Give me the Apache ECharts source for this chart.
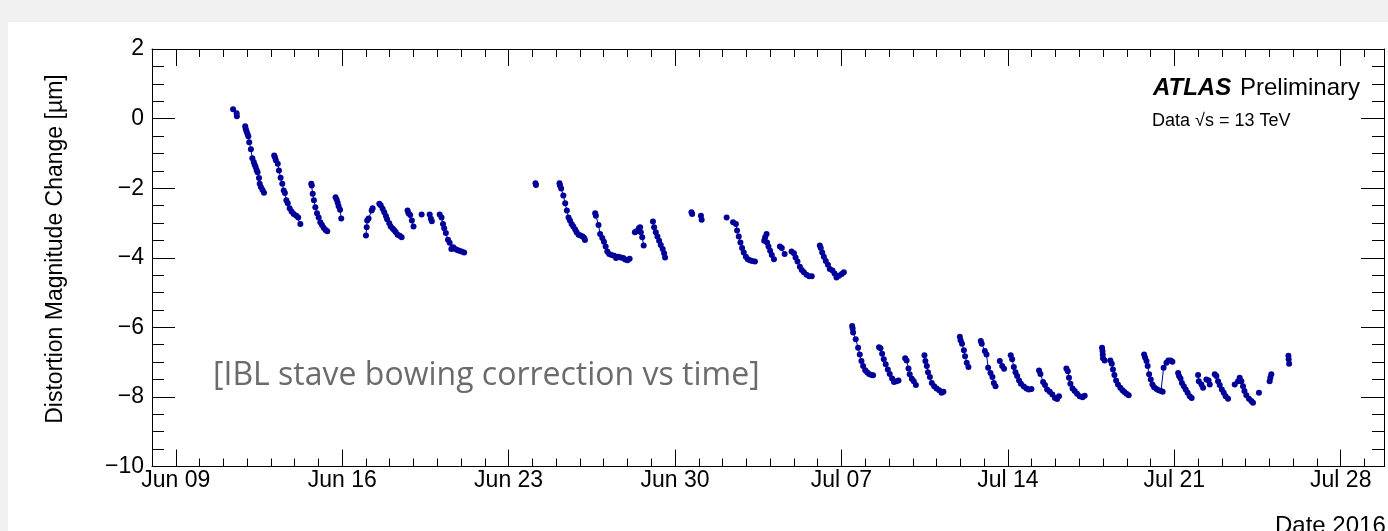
<!DOCTYPE html>
<html>
<head>
<meta charset="utf-8">
<script src="https://cdn.jsdelivr.net/npm/echarts@6.0.0/dist/echarts.min.js"></script>
<style>
  html, body { margin: 0; padding: 0; background: #f1f1f1; }
  #sheet { position: absolute; left: 8px; top: 22px; width: 1380px; height: 509px; background: #fff; }
  #chart { position: absolute; left: 0; top: 0; width: 1388px; height: 531px; }
</style>
</head>
<body>
<div id="sheet"></div>
<div id="chart"></div>
<script>
// time is in days counted from 2016-06-00, so Jun 11 12:00 = 11.5 and Jul 07 00:00 = 37
// each inner array is one run of measurements (points of a run are joined by a line)
const runDays = [
  [11.41, 11.56, 11.57],
  [11.92, 11.94, 11.97, 12.01, 12.05, 12.09, 12.16, 12.22, 12.28, 12.32, 12.36, 12.40, 12.44, 12.50, 12.53, 12.58, 12.65, 12.71],
  [13.14, 13.17, 13.21, 13.29, 13.34, 13.41, 13.48, 13.54, 13.59, 13.65, 13.71, 13.79, 13.87, 13.96, 14.07, 14.15, 14.24],
  [14.70, 14.72, 14.76, 14.81, 14.87, 14.94, 15.01, 15.08, 15.15, 15.22, 15.30, 15.37],
  [15.72, 15.77, 15.81, 15.85, 15.91, 15.96],
  [17.00, 17.03, 17.05, 17.11, 17.24, 17.28],
  [17.56, 17.62, 17.70, 17.77, 17.84, 17.89, 17.98, 18.04, 18.12, 18.18, 18.25, 18.33, 18.42, 18.50],
  [18.75, 18.79, 18.86, 18.93, 19.00],
  [19.34],
  [19.68, 19.73, 19.77],
  [20.10, 20.18, 20.24, 20.29, 20.36, 20.45, 20.52, 20.59, 20.67, 20.75, 20.84, 20.92, 21.02, 21.13],
  [24.13, 24.15],
  [25.14, 25.16, 25.21, 25.30, 25.38, 25.45, 25.52, 25.58, 25.65, 25.72, 25.80, 25.86, 25.94, 26.03, 26.11, 26.18, 26.21],
  [26.64, 26.67, 26.78, 26.85, 26.94, 27.01, 27.08, 27.15, 27.23, 27.33, 27.44, 27.52, 27.62, 27.72, 27.82, 27.90, 28.00, 28.09],
  [28.31, 28.38, 28.48, 28.53, 28.56, 28.62, 28.68],
  [29.07, 29.12, 29.19, 29.26, 29.33, 29.40, 29.48, 29.54, 29.58],
  [30.69, 30.72],
  [31.09, 31.12],
  [32.17],
  [32.44, 32.56, 32.61, 32.68, 32.75, 32.82, 32.89, 32.98, 33.06, 33.15, 33.24, 33.36],
  [33.75, 33.79, 33.85, 33.87, 33.93, 34.00, 34.07, 34.16],
  [34.41, 34.49, 34.61],
  [34.90, 35.00, 35.07, 35.15, 35.25, 35.33, 35.42, 35.53, 35.64, 35.75],
  [36.09, 36.13, 36.19, 36.26, 36.34, 36.43, 36.51, 36.62, 36.71, 36.79, 36.90, 37.01, 37.10],
  [37.45, 37.47, 37.49, 37.60, 37.70, 37.77, 37.84, 37.91, 38.00, 38.08, 38.16, 38.26, 38.33],
  [38.58, 38.64, 38.71, 38.78, 38.86, 38.95, 39.03, 39.13, 39.21, 39.31, 39.40],
  [39.68, 39.74, 39.82, 39.87, 39.96, 40.04, 40.13],
  [40.49, 40.53, 40.59, 40.64, 40.72, 40.80, 40.90, 41.00, 41.11, 41.21, 41.29],
  [41.98, 42.01, 42.07, 42.15, 42.20, 42.27, 42.34],
  [42.86, 42.90, 43.03, 43.10, 43.17, 43.27, 43.35, 43.41, 43.48],
  [43.66, 43.76, 43.84],
  [44.12, 44.18, 44.25, 44.32, 44.39, 44.47, 44.55, 44.67, 44.78, 44.88, 44.99],
  [45.31, 45.37, 45.48, 45.56, 45.65, 45.76, 45.87, 45.98, 46.07, 46.15],
  [46.46, 46.52, 46.57, 46.63, 46.72, 46.81, 46.91, 47.02, 47.14, 47.23],
  [47.96, 47.98, 47.99, 48.00, 48.07],
  [48.31, 48.37, 48.42, 48.48, 48.55, 48.63, 48.73, 48.82, 48.90, 48.99, 49.08],
  [49.73, 49.77, 49.83, 49.88, 49.94, 50.01, 50.08, 50.15, 50.25, 50.34, 50.44, 50.51, 50.55, 50.67, 50.75, 50.85, 50.92],
  [51.16, 51.20, 51.26, 51.32, 51.40, 51.48, 51.56, 51.65, 51.73],
  [52.00, 52.03, 52.14, 52.21],
  [52.35, 52.44, 52.49],
  [52.70, 52.77, 52.84, 52.91, 53.00, 53.08, 53.16, 53.26],
  [53.54, 53.68, 53.75, 53.82, 53.89, 53.95, 54.03, 54.14, 54.24, 54.31],
  [54.56],
  [55.01, 55.04, 55.08],
  [55.80, 55.81, 55.83]
];

// distortion magnitude change in um, same layout as runDays
const runValues = [
  [0.27, 0.15, 0.07],
  [-0.22, -0.29, -0.36, -0.43, -0.51, -0.68, -0.88, -1.14, -1.25, -1.33, -1.39, -1.48, -1.54, -1.71, -1.87, -1.97, -2.05, -2.13],
  [-1.06, -1.11, -1.20, -1.30, -1.49, -1.70, -1.87, -2.07, -2.14, -2.35, -2.43, -2.58, -2.67, -2.74, -2.79, -2.84, -3.03],
  [-1.87, -1.92, -2.16, -2.35, -2.55, -2.72, -2.84, -2.98, -3.06, -3.14, -3.20, -3.24],
  [-2.26, -2.33, -2.42, -2.52, -2.62, -2.87],
  [-3.36, -3.12, -2.93, -2.87, -2.64, -2.58],
  [-2.45, -2.49, -2.59, -2.69, -2.80, -2.89, -3.01, -3.10, -3.16, -3.20, -3.26, -3.34, -3.37, -3.41],
  [-2.64, -2.72, -2.77, -2.93, -3.10],
  [-2.76],
  [-2.76, -2.88, -2.95],
  [-2.76, -2.84, -3.03, -3.15, -3.29, -3.48, -3.57, -3.75, -3.70, -3.75, -3.78, -3.80, -3.82, -3.85],
  [-1.86, -1.91],
  [-1.86, -1.92, -2.01, -2.21, -2.43, -2.64, -2.84, -2.93, -3.03, -3.10, -3.19, -3.27, -3.34, -3.36, -3.39, -3.43, -3.49],
  [-2.72, -2.79, -3.06, -3.32, -3.43, -3.54, -3.68, -3.82, -3.89, -3.92, -3.94, -4.01, -3.97, -3.99, -4.01, -4.05, -4.07, -4.03],
  [-3.27, -3.24, -3.15, -3.12, -3.27, -3.41, -3.65],
  [-2.96, -3.12, -3.27, -3.39, -3.51, -3.63, -3.75, -3.87, -3.99],
  [-2.69, -2.74],
  [-2.79, -2.91],
  [-2.84],
  [-2.98, -3.03, -3.22, -3.39, -3.56, -3.72, -3.85, -3.97, -4.04, -4.07, -4.09, -4.11],
  [-3.51, -3.41, -3.32, -3.56, -3.68, -3.80, -3.92, -4.04],
  [-3.68, -3.72, -3.89],
  [-3.82, -3.87, -3.99, -4.11, -4.26, -4.35, -4.42, -4.49, -4.53, -4.53],
  [-3.65, -3.72, -3.85, -3.97, -4.09, -4.20, -4.32, -4.37, -4.45, -4.57, -4.52, -4.47, -4.42],
  [-5.96, -6.03, -6.15, -6.34, -6.59, -6.78, -6.97, -7.11, -7.23, -7.29, -7.34, -7.37, -7.38],
  [-6.57, -6.60, -6.76, -6.92, -7.06, -7.21, -7.34, -7.47, -7.57, -7.55, -7.53],
  [-6.89, -6.95, -7.18, -7.35, -7.48, -7.55, -7.66],
  [-6.80, -6.97, -7.11, -7.29, -7.43, -7.60, -7.69, -7.76, -7.81, -7.88, -7.85],
  [-6.27, -6.37, -6.47, -6.66, -6.83, -7.02, -7.14],
  [-6.39, -6.47, -6.68, -6.78, -7.16, -7.31, -7.43, -7.60, -7.69],
  [-6.97, -7.11, -7.19],
  [-6.80, -6.92, -7.14, -7.29, -7.40, -7.53, -7.62, -7.70, -7.76, -7.79, -7.77],
  [-7.24, -7.34, -7.57, -7.66, -7.79, -7.85, -7.93, -8.03, -8.06, -7.98],
  [-7.18, -7.26, -7.45, -7.62, -7.76, -7.83, -7.91, -7.98, -8.01, -7.97],
  [-6.59, -6.68, -6.78, -6.89, -6.95],
  [-6.95, -7.05, -7.21, -7.37, -7.53, -7.64, -7.74, -7.81, -7.86, -7.91, -7.95],
  [-6.78, -6.87, -6.97, -7.11, -7.35, -7.50, -7.64, -7.72, -7.77, -7.81, -7.83, -7.85, -7.16, -7.02, -6.95, -6.95, -6.99],
  [-7.31, -7.40, -7.47, -7.60, -7.69, -7.79, -7.88, -7.98, -8.03],
  [-7.37, -7.55, -7.64, -7.74],
  [-7.50, -7.53, -7.64],
  [-7.35, -7.40, -7.55, -7.66, -7.79, -7.88, -7.98, -8.05],
  [-7.64, -7.55, -7.45, -7.55, -7.69, -7.83, -7.95, -8.05, -8.12, -8.17],
  [-7.88],
  [-7.55, -7.45, -7.35],
  [-6.82, -6.92, -7.05]
];

// labelled dates (Jun 09, Jun 16, ... Jul 28)
const majorDays = [9, 16, 23, 30, 37, 44, 51, 58];
const xMin = 8;      // Jun 08 00:00
const xMax = 59.82;  // Jul 29 ~20:00

const FONT = "'Liberation Sans', Arial, Helvetica, sans-serif";
const BLUE = "#000099";
const AXIS = { color: "#000", width: 1 };

function dayLabel(d) {
  let m = d > 30 ? "Jul" : "Jun";
  let n = d > 30 ? d - 30 : d;
  return m + " " + (n < 10 ? "0" + n : n);
}

// one line series, a null point between runs breaks the line
let points = [];
runDays.forEach((days, i) => {
  if (i > 0) points.push([days[0], null]);
  days.forEach((d, j) => points.push([d, runValues[i][j]]));
});

function xAxisOf(position, major) {
  return {
    type: "value",
    position: position,
    min: xMin,
    max: xMax,
    interval: major ? undefined : 1,
    splitLine: { show: false },
    axisLine: { show: major, onZero: false, lineStyle: AXIS },
    axisTick: major
      ? { show: true, inside: true, length: 17, customValues: majorDays, lineStyle: AXIS }
      : { show: true, inside: true, length: 8, lineStyle: AXIS },
    axisLabel: major && position === "bottom"
      ? {
          show: true,
          customValues: majorDays,
          formatter: dayLabel,
          fontFamily: FONT,
          fontSize: 23,
          color: "#000",
          margin: 3
        }
      : { show: false }
  };
}

function yAxisOf(position) {
  return {
    type: "value",
    position: position,
    min: -10,
    max: 2,
    interval: 2,
    splitLine: { show: false },
    axisLine: { show: true, onZero: false, lineStyle: AXIS },
    axisTick: { show: true, inside: true, length: 23, lineStyle: AXIS },
    minorTick: { show: true, splitNumber: 4, length: 12, lineStyle: AXIS },
    axisLabel: position === "left"
      ? {
          show: true,
          fontFamily: FONT,
          fontSize: 23,
          color: "#000",
          margin: 8,
          formatter: v => (v < 0 ? "\u2212" + -v : "" + v)
        }
      : { show: false }
  };
}

let myChart = echarts.init(document.getElementById("chart"), null, { renderer: "canvas" });
let option = {
  animation: false,
  backgroundColor: "transparent",
  grid: { left: 152, top: 49, width: 1232, height: 417.5, containLabel: false },
  xAxis: [
    xAxisOf("bottom", true),
    xAxisOf("bottom", false),
    xAxisOf("top", true),
    xAxisOf("top", false)
  ],
  yAxis: [yAxisOf("left"), yAxisOf("right")],
  series: [
    {
      type: "line",
      xAxisIndex: 0,
      yAxisIndex: 0,
      data: points,
      connectNulls: false,
      symbol: "circle",
      symbolSize: 6,
      showSymbol: true,
      showAllSymbol: true,
      lineStyle: { color: BLUE, width: 1 },
      itemStyle: { color: BLUE }
    }
  ],
  graphic: [
    {
      // y axis title, ROOT puts it a bit above the middle
      type: "text",
      x: 56,
      y: 249,
      rotation: Math.PI / 2,
      style: {
        text: "Distortion Magnitude Change [\u00b5m]",
        font: "23px " + FONT,
        fill: "#000",
        align: "center",
        verticalAlign: "middle"
      }
    },
    {
      type: "text",
      x: 1153,
      y: 88,
      style: { text: "ATLAS", font: "italic bold 24px " + FONT, fill: "#000", verticalAlign: "middle" }
    },
    {
      type: "text",
      x: 1240,
      y: 88,
      style: { text: "Preliminary", font: "24px " + FONT, fill: "#000", verticalAlign: "middle" }
    },
    {
      type: "text",
      x: 1152,
      y: 121,
      style: { text: "Data \u221As = 13 TeV", font: "18px " + FONT, fill: "#000", verticalAlign: "middle" }
    },
    {
      type: "text",
      x: 213,
      y: 376,
      style: { text: "[IBL stave bowing correction vs time]", font: "32px 'Open Sans', Lato, sans-serif", fill: "#6b6b6b", verticalAlign: "middle" }
    },
    {
      type: "text",
      x: 1275,
      y: 526,
      style: { text: "Date 2016", font: "24px " + FONT, fill: "#000", verticalAlign: "middle" }
    }
  ]
};
myChart.setOption(option, true);
window.addEventListener("resize", () => {
  myChart.resize();
});
</script>
</body>
</html>
